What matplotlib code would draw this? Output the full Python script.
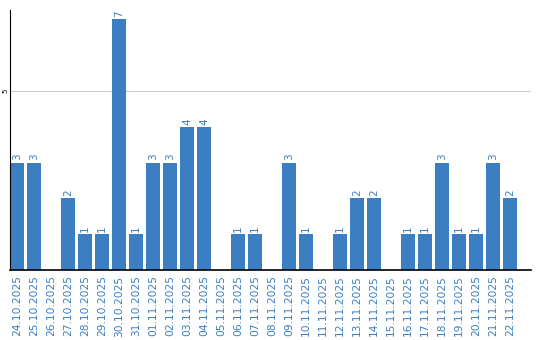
import matplotlib
matplotlib.use("Agg")
import matplotlib.pyplot as plt
from matplotlib.transforms import blended_transform_factory

dates = ["24.10.2025", "25.10.2025", "26.10.2025", "27.10.2025", "28.10.2025",
         "29.10.2025", "30.10.2025", "31.10.2025", "01.11.2025", "02.11.2025",
         "03.11.2025", "04.11.2025", "05.11.2025", "06.11.2025", "07.11.2025",
         "08.11.2025", "09.11.2025", "10.11.2025", "11.11.2025", "12.11.2025",
         "13.11.2025", "14.11.2025", "15.11.2025", "16.11.2025", "17.11.2025",
         "18.11.2025", "19.11.2025", "20.11.2025", "21.11.2025", "22.11.2025"]
values = [3, 3, 0, 2, 1, 1, 7, 1, 3, 3, 4, 4, 0, 1, 1, 0, 3, 1, 0, 1,
          2, 2, 0, 1, 1, 3, 1, 1, 3, 2]
ytick_vals = [5]

blue = "#3b7ec2"
fig = plt.figure(figsize=(5.4, 3.4), dpi=100)
ax = fig.add_axes([10/540, 1-270/340, 521/540, 260/340])
x = list(range(len(values)))
bars = ax.bar(x, values, width=0.82, color=blue, zorder=2)
for xi, v in zip(x, values):
    if v > 0:
        ax.text(xi, v + 0.06, str(v), rotation=90, ha="center", va="bottom",
                color=blue, fontsize=7.5)
ax.set_xlim(-0.41, 30.24)
ax.set_ylim(0, 7.26)
ax.set_yticks(ytick_vals)
ax.set_yticklabels([""] * len(ytick_vals))
trans = blended_transform_factory(fig.transFigure, ax.transData)
for yv in ytick_vals:
    fig.text(5.2/540, yv, str(yv), rotation=90, ha="center", va="center",
             fontsize=5, transform=trans)
ax.yaxis.grid(True, color="#cccccc", linewidth=0.8, zorder=0)
ax.set_xticks(x)
ax.set_xticklabels(dates, rotation=90, color=blue, fontsize=7.7)
ax.tick_params(axis="both", length=0, pad=4)
for s in ["top", "right"]:
    ax.spines[s].set_visible(False)
ax.spines["left"].set_color("black")
ax.spines["bottom"].set_color("black")
ax.spines["bottom"].set_linewidth(1.2)
fig.savefig("out.png", dpi=100)
